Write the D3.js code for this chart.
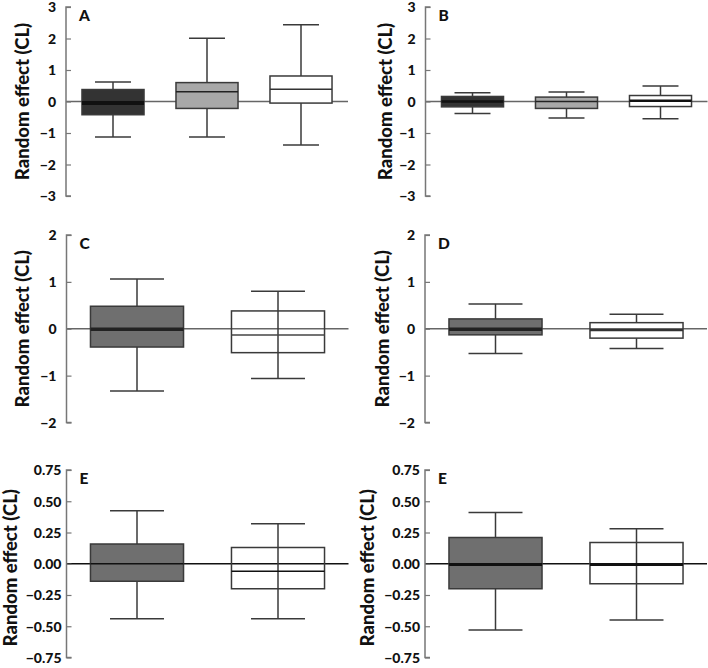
<!DOCTYPE html>
<html><head><meta charset="utf-8">
<script src="https://cdn.jsdelivr.net/npm/d3@7"></script>
<style>body{margin:0;background:#fff}svg{display:block}text{font-family:Lato,"Open Sans",sans-serif;font-weight:900;fill:#111}</style>
</head><body><svg id="c" width="708" height="668"></svg>
<script>
// ---- data: [min, q1, median, q3, max] per box ----
const panelLabels = ["A", "B", "C", "D", "E", "E"];
const ticksAB = [3, 2, 1, 0, -1, -2, -3];
const ticksCD = [2, 1, 0, -1, -2];
const ticksE = [0.75, 0.5, 0.25, 0, -0.25, -0.5, -0.75];
const statsA = [[-1.13, -0.42, -0.05, 0.38, 0.62], [-1.13, -0.22, 0.31, 0.60, 2.01], [-1.38, -0.05, 0.39, 0.81, 2.44]];
const statsB = [[-0.38, -0.17, 0.0, 0.16, 0.28], [-0.52, -0.22, 0.0, 0.14, 0.30], [-0.55, -0.16, 0.02, 0.19, 0.49]];
const statsC = [[-1.33, -0.39, -0.01, 0.48, 1.06], [-1.06, -0.51, -0.135, 0.38, 0.80]];
const statsD = [[-0.53, -0.13, -0.01, 0.21, 0.53], [-0.42, -0.20, -0.02, 0.13, 0.31]];
const statsE1 = [[-0.44, -0.14, 0.0, 0.158, 0.425], [-0.44, -0.20, -0.059, 0.13, 0.32]];
const statsE2 = [[-0.53, -0.20, -0.005, 0.21, 0.41], [-0.45, -0.16, -0.005, 0.17, 0.28]];

// ---- layout / styles ----
const svg = d3.select("#c");
const fmt2 = d3.format(".2f");
const minus = s => s.replace("-", "\u2212");
const panels = [
  {label: panelLabels[0], stats: statsA, ticks: ticksAB, dom: [-3, 3], x0: 66, y0: 7, y1: 196, fmt: d => minus(String(d)), lab: 43.5, tg: 10, ly: 0,
   fills: ["#333333", "#a8a8a8", "#ffffff"], medW: [4, 1.5, 1.5], medC: ["#111", "#222", "#333"], through: [false, false, false], zc: "#666"},
  {label: panelLabels[1], stats: statsB, ticks: ticksAB, dom: [-3, 3], x0: 425.5, y0: 7, y1: 196, fmt: d => minus(String(d)), lab: 40, tg: 10, ly: 0,
   fills: ["#333333", "#a8a8a8", "#ffffff"], medW: [2.5, 1.5, 2.5], medC: ["#111", "#222", "#111"], through: [false, false, false], zc: "#666"},
  {label: panelLabels[2], stats: statsC, ticks: ticksCD, dom: [-2, 2], x0: 66.5, y0: 235, y1: 422.5, fmt: d => minus(String(d)), lab: 44, tg: 10, ly: 0,
   fills: ["#6f6f6f", "none"], medW: [3.5, 1.5], medC: ["#222", "#444"], through: [false, true], zc: "#666"},
  {label: panelLabels[3], stats: statsD, ticks: ticksCD, dom: [-2, 2], x0: 425, y0: 235, y1: 422.5, fmt: d => minus(String(d)), lab: 42, tg: 10, ly: 0,
   fills: ["#6f6f6f", "#ffffff"], medW: [3.5, 3], medC: ["#222", "#333"], through: [false, false], zc: "#666"},
  {label: panelLabels[4], stats: statsE1, ticks: ticksE, dom: [-0.75, 0.75], x0: 66.5, y0: 470, y1: 657.5, fmt: d => minus(fmt2(d)), lab: 55.5, tg: 5, ly: 4,
   fills: ["#6f6f6f", "none"], medW: [1.5, 1.5], medC: ["#111", "#111"], through: [false, true], zc: "#111"},
  {label: panelLabels[5], stats: statsE2, ticks: ticksE, dom: [-0.75, 0.75], x0: 425, y0: 470, y1: 657.5, fmt: d => minus(fmt2(d)), lab: 57, tg: 5, ly: 4,
   fills: ["#6f6f6f", "none"], medW: [3, 3], medC: ["#111", "#111"], through: [false, true], zc: "#111"}
];

panels.forEach(p => {
  const g = svg.append("g");
  const y = d3.scaleLinear().domain(p.dom).range([p.y1, p.y0]);
  const x = d3.scaleBand().domain(d3.range(p.stats.length)).range([p.x0, p.x0 + 282])
    .paddingInner(0.34).paddingOuter(0.17);
  const bw = x.bandwidth(), cap = bw * 0.58;

  // zero line
  g.append("line").attr("x1", p.x0).attr("x2", p.x0 + 282).attr("y1", y(0)).attr("y2", y(0))
    .attr("stroke", p.zc).attr("stroke-width", 1.5);

  // y axis
  const ax = g.append("g").attr("transform", `translate(${p.x0},0)`)
    .call(d3.axisRight(y).tickValues(p.ticks).tickSize(5).tickFormat(""));
  ax.select(".domain").attr("d", `M5,${p.y0}H0V${p.y1}H5`).attr("stroke", "#777").attr("stroke-width", 1.5);
  ax.selectAll(".tick line").attr("stroke", "#777").attr("stroke-width", 1.2);
  g.selectAll(".tl").data(p.ticks).join("text").attr("class", "tl")
    .attr("x", p.x0 - p.tg).attr("y", d => y(d)).attr("dy", "0.38em")
    .attr("text-anchor", "end").attr("font-size", 14).text(p.fmt);

  // y label
  const cy = (p.y0 + p.y1) / 2 + p.ly;
  g.append("text").attr("transform", `translate(${p.x0 - p.lab},${cy}) rotate(-90)`)
    .attr("text-anchor", "middle").attr("dy", "0.35em").attr("font-size", 18.5).text("Random effect (CL)");

  // panel label
  g.append("text").attr("x", p.x0 + 13).attr("y", p.y0 + 14).attr("font-size", 15.5).text(p.label);

  p.stats.forEach((s, i) => {
    const cx = x(i) + bw / 2;
    const [mn, q1, md, q3, mx] = s;
    const lc = "#3a3a3a";
    if (p.through[i]) {
      g.append("line").attr("x1", cx).attr("x2", cx).attr("y1", y(mx)).attr("y2", y(mn)).attr("stroke", lc).attr("stroke-width", 1.5);
    } else {
      g.append("line").attr("x1", cx).attr("x2", cx).attr("y1", y(mx)).attr("y2", y(q3)).attr("stroke", lc).attr("stroke-width", 1.5);
      g.append("line").attr("x1", cx).attr("x2", cx).attr("y1", y(q1)).attr("y2", y(mn)).attr("stroke", lc).attr("stroke-width", 1.5);
    }
    [mn, mx].forEach(v => g.append("line").attr("x1", cx - cap / 2).attr("x2", cx + cap / 2)
      .attr("y1", y(v)).attr("y2", y(v)).attr("stroke", lc).attr("stroke-width", 1.5));
  });

  p.stats.forEach((s, i) => {
    const [mn, q1, md, q3, mx] = s;
    g.append("rect").attr("x", x(i)).attr("width", bw).attr("y", y(q3)).attr("height", y(q1) - y(q3))
      .attr("fill", p.fills[i]).attr("stroke", "#3a3a3a").attr("stroke-width", 1.5);
    g.append("line").attr("x1", x(i)).attr("x2", x(i) + bw).attr("y1", y(md)).attr("y2", y(md))
      .attr("stroke", p.medC[i]).attr("stroke-width", p.medW[i]);
  });
});
</script></body></html>
